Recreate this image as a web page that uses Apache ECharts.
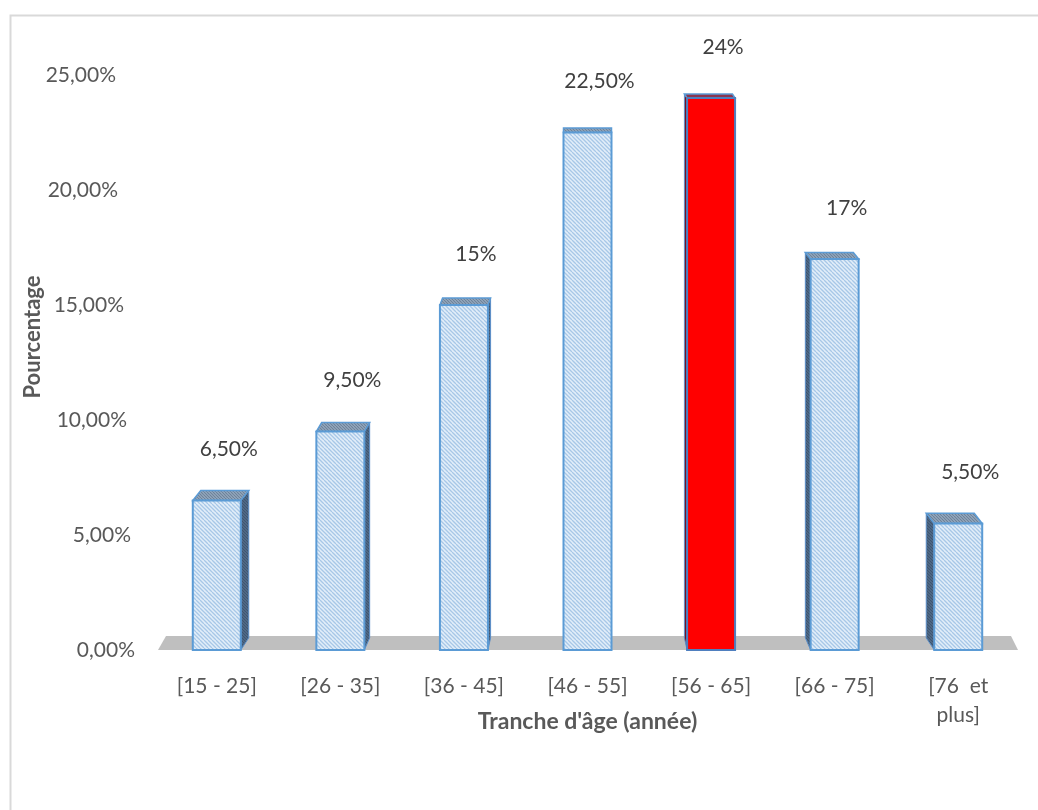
<!DOCTYPE html>
<html><head><meta charset="utf-8">
<script src="https://cdn.jsdelivr.net/npm/echarts@6/dist/echarts.min.js"></script>
<style>html,body{margin:0;padding:0;background:#fff}#c{width:1038px;height:810px}</style>
</head><body><div id="c"></div>
<script>
// ---- data ----
const categories = ['[15 - 25]', '[26 - 35]', '[36 - 45]', '[46 - 55]', '[56 - 65]', '[66 - 75]', '[76  et\nplus]'];
const percentages = [6.5, 9.5, 15, 22.5, 24, 17, 5.5];
const valueLabels = ['6,50%', '9,50%', '15%', '22,50%', '24%', '17%', '5,50%'];
const yTickLabels = ['0,00%', '5,00%', '10,00%', '15,00%', '20,00%', '25,00%'];
const xAxisTitle = "Tranche d'âge (année)";
const yAxisTitle = 'Pourcentage';

// ---- styles ----
const FONT = 'Lato, "Open Sans", sans-serif';
function hatch(bg, line, size, period, lw) {
  const c = document.createElement('canvas');
  c.width = size; c.height = size;
  const g = c.getContext('2d');
  g.fillStyle = bg; g.fillRect(0, 0, size, size);
  g.strokeStyle = line; g.lineWidth = lw;
  for (let x0 = -size; x0 <= size; x0 += period) {
    g.beginPath(); g.moveTo(x0, 0); g.lineTo(x0 + size, size); g.stroke();
  }
  return c;
}
const frontPat = { image: hatch('#e2eef9', '#a7c7e7', 8, 4, 1.3), repeat: 'repeat' };
const topPat = { image: hatch('#9aaec4', '#6d8299', 6, 3, 1.2), repeat: 'repeat' };
const sidePat = { image: hatch('#56708e', '#3e5570', 6, 3, 1.2), repeat: 'repeat' };
const maxIdx = percentages.indexOf(Math.max(...percentages));

const chart = echarts.init(document.getElementById('c'), null, { renderer: 'canvas' });

function renderBar(params, api) {
  const i = api.value(0), v = api.value(1);
  const cs = params.coordSys;
  const mid = cs.x + cs.width / 2;
  const top = api.coord([i, v]);
  const base = api.coord([i, 0]);
  const cx = top[0], yt = top[1], yb = base[1];
  const hw = 24;
  const x0 = cx - hw, x1 = cx + hw;
  const dx = (mid - cx) * 0.0215;
  const dyT = -(2.55 + 0.0148 * yt);
  const dyB = -(2.55 + 0.0148 * yb);
  const red = params.dataIndex === maxIdx;
  const children = [];
  const sx = dx >= 0 ? x1 : x0;
  if (Math.abs(dx) > 0.5) {
    children.push({
      type: 'polygon',
      shape: { points: [[sx, yt], [sx + dx, yt + dyT], [sx + dx, yb + dyB], [sx, yb]] },
      style: { fill: red ? '#7a1020' : sidePat, stroke: '#5b8fc9', lineWidth: 1 }
    });
  }
  children.push({
    type: 'polygon',
    shape: { points: [[x0, yt], [x1, yt], [x1 + dx, yt + dyT], [x0 + dx, yt + dyT]] },
    style: { fill: red ? '#8a3550' : topPat, stroke: '#5b9bd5', lineWidth: 1.5 }
  });
  children.push({
    type: 'rect',
    shape: { x: x0, y: yt, width: x1 - x0, height: yb - yt },
    style: { fill: red ? '#ff0000' : frontPat, stroke: red ? '#4f7fbf' : '#5b9bd5', lineWidth: 2 }
  });
  children.push({
    type: 'text',
    x: cx + 12, y: yt - 51,
    style: { text: valueLabels[params.dataIndex], fill: '#404040', font: '21px ' + FONT, align: 'center', verticalAlign: 'middle' }
  });
  return { type: 'group', children };
}

function renderFloor(params, api) {
  const cs = params.coordSys;
  const yb = api.coord([0, 0])[1];
  const xa = cs.x, xb = cs.x + cs.width;
  return {
    type: 'polygon',
    shape: { points: [[xa + 3, yb], [xa + 11, yb - 14], [xb - 9, yb - 14], [xb - 2, yb]] },
    style: { fill: '#bfbfbf' }
  };
}

const padRight = [0, 4, 8, 11, 17, 19];
const rich = {};
yTickLabels.forEach((t, k) => {
  rich['p' + k] = { padding: [0, padRight[k], 0, 0], fontSize: 21, fontFamily: FONT, color: '#595959' };
});

chart.setOption({
  animation: false,
  backgroundColor: '#ffffff',
  grid: { left: 155, right: 18, top: 75, bottom: 160, containLabel: false },
  xAxis: {
    type: 'category',
    data: categories,
    axisLine: { show: false },
    axisTick: { show: false },
    axisLabel: { color: '#595959', fontSize: 21, fontFamily: FONT, margin: 22, lineHeight: 29, interval: 0 },
    name: xAxisTitle,
    nameLocation: 'middle',
    nameGap: 60,
    nameMoveOverlap: false,
    nameTextStyle: { color: '#595959', fontSize: 23, fontWeight: 'bold', fontFamily: FONT }
  },
  yAxis: {
    type: 'value',
    min: 0, max: 25, interval: 5,
    axisLine: { show: false },
    axisTick: { show: false },
    splitLine: { show: false },
    axisLabel: {
      margin: 20,
      formatter: function (val) { const k = Math.round(val / 5); return '{p' + k + '|' + yTickLabels[k] + '}'; },
      rich: rich
    }
  },
  graphic: [
    { type: 'rect', left: 8, top: 13, shape: { width: 1100, height: 900 }, style: { fill: 'none', stroke: '#d9d9d9', lineWidth: 2 }, silent: true },
    { type: 'text', x: 33, y: 337, rotation: Math.PI / 2, style: { text: yAxisTitle, fill: '#595959', font: 'bold 22px ' + FONT, align: 'center', verticalAlign: 'middle' } }
  ],
  series: [
    { type: 'custom', renderItem: renderFloor, data: [[0, 0]], silent: true, z: 1 },
    { type: 'custom', renderItem: renderBar, data: percentages.map((v, i) => [i, v]), z: 2,
      encode: { x: 0, y: 1 } }
  ]
});
</script>
</body></html>
